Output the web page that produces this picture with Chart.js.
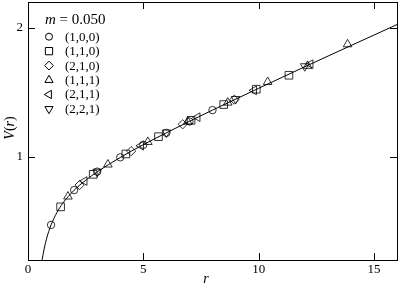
<!DOCTYPE html>
<html lang="en">
<head>
<meta charset="UTF-8">
<title>V(r) at m = 0.050</title>
<script src="https://cdnjs.cloudflare.com/ajax/libs/Chart.js/4.4.1/chart.umd.min.js"></script>
<style>
  html, body { margin: 0; padding: 0; background: #fff; }
</style>
</head>
<body>
<canvas id="myChart" width="399" height="285"></canvas>
<script>
// lattice directions (n1,n2,n3): r values and V(r)
const r100 = [1, 2, 3, 4, 5, 6, 7, 8];
const v100 = [0.472, 0.742, 0.885, 0.996, 1.093, 1.186, 1.274, 1.362];

const r110 = [1.414, 2.828, 4.243, 5.657, 7.071, 8.485, 9.899, 11.314];
const v110 = [0.612, 0.864, 1.022, 1.156, 1.283, 1.405, 1.524, 1.632];

const r210 = [2.236, 4.472, 6.708, 8.944];
const v210 = [0.781, 1.044, 1.252, 1.443];

const r111 = [1.732, 3.464, 5.196, 6.928, 8.660, 10.392, 12.124, 13.856];
const v111 = [0.692, 0.940, 1.115, 1.272, 1.420, 1.580, 1.705, 1.872];

const r211 = [2.449, 4.899, 7.348, 9.798, 12.247];
const v211 = [0.812, 1.086, 1.307, 1.515, 1.718];

const r221 = [3, 6, 9, 12];
const v221 = [0.884, 1.188, 1.448, 1.702];

// fitted curve
const fitR = [0.61, 0.7, 0.8, 0.9, 1, 1.25, 1.5, 2, 2.5, 3, 4, 5, 6, 7, 8, 10, 12, 14, 16];
const fitV = [0.2, 0.286, 0.362, 0.422, 0.472, 0.567, 0.638, 0.741, 0.818, 0.883, 0.995, 1.094, 1.186, 1.275, 1.362, 1.531, 1.698, 1.862, 2.025];

const seriesNames = ['(1,0,0)', '(1,1,0)', '(2,1,0)', '(1,1,1)', '(2,1,1)', '(2,2,1)'];
const xTickLabels = [0, 5, 10, 15];
const yTickLabels = [1, 2];

const serif = '"Liberation Serif", "DejaVu Serif", serif';

function pts(rs, vs) {
  return rs.map((r, i) => ({ x: r, y: vs[i] }));
}

function markerSet(name, rs, vs, style, radius, rot) {
  return {
    label: name,
    type: 'scatter',
    data: pts(rs, vs),
    pointStyle: style,
    pointRadius: radius,
    pointRotation: rot,
    pointBorderColor: '#000',
    pointBackgroundColor: 'rgba(0,0,0,0)',
    pointBorderWidth: 0.8,
    pointHoverRadius: radius
  };
}

const markerSets = [
  markerSet(seriesNames[0], r100, v100, 'circle', 3.7, 0),
  markerSet(seriesNames[1], r110, v110, 'rect', 5.4, 0),
  markerSet(seriesNames[2], r210, v210, 'rectRot', 4.6, 0),
  markerSet(seriesNames[3], r111, v111, 'triangle', 5, 0),
  markerSet(seriesNames[4], r211, v211, 'triangle', 5, -90),
  markerSet(seriesNames[5], r221, v221, 'triangle', 5, 180)
];

const isMult = (v, step) => Math.abs(v / step - Math.round(v / step)) < 1e-6;

// frame, inward ticks on all four sides, axis titles and legend
const framePlugin = {
  id: 'frame',
  afterDraw(chart) {
    const ctx = chart.ctx;
    const a = chart.chartArea;
    const xs = chart.scales.x;
    const ys = chart.scales.y;
    ctx.save();
    ctx.strokeStyle = '#000';
    ctx.lineWidth = 1;
    ctx.strokeRect(Math.round(a.left) + 0.5, Math.round(a.top) + 0.5,
      Math.round(a.right - a.left), Math.round(a.bottom - a.top));

    ctx.beginPath();
    xs.ticks.forEach(t => {
      const px = Math.round(xs.getPixelForValue(t.value)) + 0.5;
      const len = isMult(t.value, 5) ? 7 : 4;
      ctx.moveTo(px, a.bottom); ctx.lineTo(px, a.bottom - len);
      ctx.moveTo(px, a.top); ctx.lineTo(px, a.top + len);
    });
    ys.ticks.forEach(t => {
      const py = Math.round(ys.getPixelForValue(t.value)) + 0.5;
      const len = isMult(t.value, 1) ? 7 : 4;
      ctx.moveTo(a.left, py); ctx.lineTo(a.left + len, py);
      ctx.moveTo(a.right, py); ctx.lineTo(a.right - len, py);
    });
    ctx.stroke();

    ctx.fillStyle = '#000';
    ctx.textBaseline = 'middle';

    // x title
    ctx.font = 'italic 14px ' + serif;
    ctx.textAlign = 'center';
    ctx.fillText('r', 206, 279);

    // y title V(r), rotated
    ctx.save();
    ctx.translate(10, 128);
    ctx.rotate(-Math.PI / 2);
    const parts = [['V', 'italic'], ['(', 'normal'], ['r', 'italic'], [')', 'normal']];
    let w = 0;
    parts.forEach(p => { ctx.font = p[1] + ' 14px ' + serif; w += ctx.measureText(p[0]).width; });
    let cx = -w / 2;
    ctx.textAlign = 'left';
    parts.forEach(p => {
      ctx.font = p[1] + ' 14px ' + serif;
      ctx.fillText(p[0], cx, 0);
      cx += ctx.measureText(p[0]).width;
    });
    ctx.restore();

    // legend
    ctx.textAlign = 'left';
    ctx.font = 'italic 15px ' + serif;
    ctx.fillText('m', 45, 20);
    const mw = ctx.measureText('m').width;
    ctx.font = '15px ' + serif;
    ctx.fillText(' = 0.050', 45 + mw, 20);

    ctx.font = '13px ' + serif;
    markerSets.forEach((ds, i) => {
      const y = 36.7 + i * 14.45;
      ctx.strokeStyle = '#000';
      ctx.fillStyle = 'rgba(0,0,0,0)';
      Chart.helpers.drawPoint(ctx, {
        pointStyle: ds.pointStyle,
        rotation: ds.pointRotation,
        radius: ds.pointRadius * 0.95,
        borderWidth: 0.8
      }, 49, y);
      ctx.fillStyle = '#000';
      ctx.fillText(ds.label, 65, y + 0.5);
    });
    ctx.restore();
  }
};

new Chart(document.getElementById('myChart'), {
  type: 'scatter',
  data: {
    datasets: [
      {
        label: 'fit',
        type: 'line',
        data: pts(fitR, fitV),
        borderColor: '#000',
        borderWidth: 1,
        pointRadius: 0,
        fill: false,
        cubicInterpolationMode: 'monotone'
      },
      ...markerSets
    ]
  },
  options: {
    responsive: false,
    animation: false,
    events: [],
    layout: { autoPadding: false, padding: { top: 2, right: 2, left: 0, bottom: 0 } },
    plugins: {
      legend: { display: false },
      tooltip: { enabled: false }
    },
    scales: {
      x: {
        type: 'linear',
        min: 0,
        max: 16,
        grid: { display: false, drawTicks: false },
        border: { display: false },
        afterFit(s) {
          s.height = 25;
          s.paddingLeft = 0;
          s.paddingRight = 0;
        },
        ticks: {
          stepSize: 1,
          autoSkip: false,
          maxRotation: 0,
          padding: 2,
          color: '#000',
          font: { family: serif, size: 13 },
          callback: v => xTickLabels.some(t => Math.abs(t - v) < 1e-6) ? String(Math.round(v)) : null
        }
      },
      y: {
        type: 'linear',
        min: 0.2,
        max: 2.2,
        grid: { display: false, drawTicks: false },
        border: { display: false },
        afterFit(s) {
          s.width = 28;
          s.paddingTop = 0;
          s.paddingBottom = 0;
        },
        ticks: {
          stepSize: 0.2,
          autoSkip: false,
          padding: 5,
          color: '#000',
          font: { family: serif, size: 13 },
          callback: v => yTickLabels.some(t => Math.abs(t - v) < 1e-6) ? String(Math.round(v)) : null
        }
      }
    }
  },
  plugins: [framePlugin]
});
</script>
</body>
</html>
